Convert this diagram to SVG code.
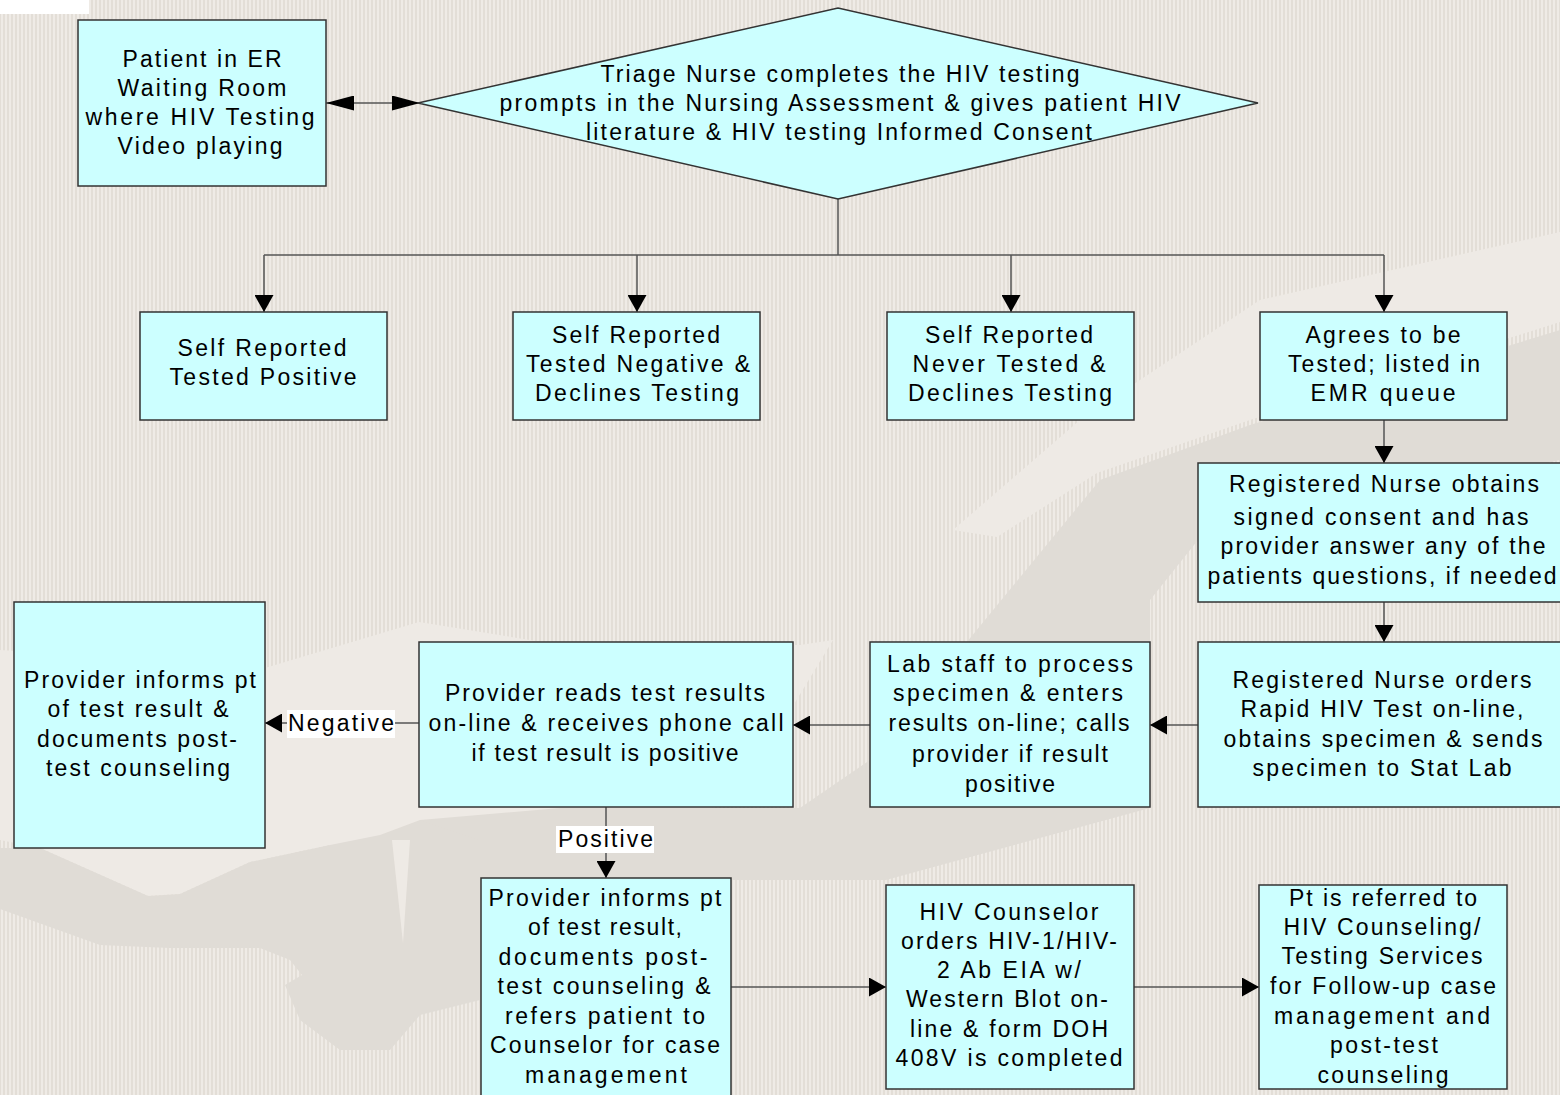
<svg xmlns="http://www.w3.org/2000/svg" width="1560" height="1095" viewBox="0 0 1560 1095">
<defs>
<pattern id="stripes" x="0" y="0" width="4" height="8" patternUnits="userSpaceOnUse">
<rect x="0" y="0" width="4" height="8" fill="#e3ded7"/>
<rect x="1" y="0" width="2" height="8" fill="#efebe6"/>
</pattern>
<marker id="arr" viewBox="0 0 17 19" refX="17" refY="9.5" markerWidth="17" markerHeight="19" markerUnits="userSpaceOnUse" orient="auto">
<path d="M0,0 L17,9.5 L0,19 Z" fill="#000"/>
</marker>
<marker id="arrL" viewBox="0 0 28 15" refX="28" refY="7.5" markerWidth="28" markerHeight="15" markerUnits="userSpaceOnUse" orient="auto-start-reverse">
<path d="M0,0 L28,7.5 L0,15 Z" fill="#000"/>
</marker>
<style>
.box{fill:#ccffff;stroke:#333;stroke-width:1.5}
.t{font-family:"Liberation Sans",Arial,sans-serif;font-size:23px;fill:#000;text-anchor:middle}
.c{fill:none;stroke:#555;stroke-width:1.5}
.ca{fill:none;stroke:#555;stroke-width:1.5;marker-end:url(#arr)}
.lbl{fill:#fff}
</style>
</defs>

<g id="background">
<rect x="0" y="0" width="1560" height="1095" fill="url(#stripes)"/>
<path d="M1560,232 L1260,300 L1080,420 L953,530 L997,537 L1097,473 L1250,420 L1560,322 Z" fill="#eeeae5"/>
<path d="M0,650 L265,668 L419,622 L560,645 L800,645 L833,640 L760,760 L700,820 L480,860 L330,845 L250,862 L180,894 L148,896 L40,848 L0,840 Z" fill="#eeeae5"/>
<path d="M420,820 L560,808 L800,808 L870,760 L1040,553 L1100,480 L1250,425 L1560,330 L1560,460 L1198,540 L1150,600 L1150,808 L886,880 L731,880 L731,1095 L480,1095 L480,1000 Z" fill="#e0dcd6"/>
<path d="M0,848 L40,848 L148,896 L180,894 L250,862 L330,845 L380,835 L420,820 L480,840 L480,1000 L420,1015 L390,1050 L340,1050 L300,1020 L285,985 L302,975 L290,960 L260,948 L170,948 L100,945 L0,909 Z" fill="#e0dcd6"/>
<path d="M392,840 L403,943 L410,840 Z" fill="#eeeae5"/>
<rect x="0" y="0" width="89" height="14" fill="#fff"/>
</g>

<g id="connectors">
<line x1="326" y1="103" x2="420" y2="103" stroke="#555" stroke-width="1.5" marker-start="url(#arrL)" marker-end="url(#arrL)"/>
<polyline class="c" points="838,199 838,255"/>
<polyline class="c" points="264,255 1384,255"/>
<line class="ca" x1="264" y1="255" x2="264" y2="312"/>
<line class="ca" x1="637" y1="255" x2="637" y2="312"/>
<line class="ca" x1="1011" y1="255" x2="1011" y2="312"/>
<line class="ca" x1="1384" y1="255" x2="1384" y2="312"/>
<line class="ca" x1="1384" y1="420" x2="1384" y2="463"/>
<line class="ca" x1="1384" y1="602" x2="1384" y2="642"/>
<line class="ca" x1="1198" y1="725" x2="1150" y2="725"/>
<line class="ca" x1="870" y1="725" x2="793" y2="725"/>
<line class="ca" x1="419" y1="723" x2="265" y2="723"/>
<rect class="lbl" x="287" y="710" width="108" height="28"/>
<text class="t" x="341" y="731" textLength="106" lengthAdjust="spacing">Negative</text>
<line class="ca" x1="606" y1="807" x2="606" y2="878"/>
<rect class="lbl" x="556" y="826" width="98" height="27"/>
<text class="t" x="605.5" y="847" textLength="95" lengthAdjust="spacing">Positive</text>
<line class="ca" x1="731" y1="987" x2="886" y2="987"/>
<line class="ca" x1="1134" y1="987" x2="1259" y2="987"/>
</g>

<g id="n-patient">
<rect class="box" x="78" y="20" width="248" height="166"/>
<text class="t" x="202" y="67" textLength="159" lengthAdjust="spacing">Patient in ER</text>
<text class="t" x="202" y="96" textLength="169" lengthAdjust="spacing">Waiting Room</text>
<text class="t" x="200" y="125" textLength="229" lengthAdjust="spacing">where HIV Testing</text>
<text class="t" x="200" y="154" textLength="165" lengthAdjust="spacing">Video playing</text>
</g>

<g id="n-triage">
<polygon class="box" points="418,103 838,8 1258,103 838,199"/>
<text class="t" x="840" y="82" textLength="479" lengthAdjust="spacing">Triage Nurse completes the HIV testing</text>
<text class="t" x="840" y="111" textLength="681" lengthAdjust="spacing">prompts in the Nursing Assessment &amp; gives patient HIV</text>
<text class="t" x="839" y="140" textLength="506" lengthAdjust="spacing">literature &amp; HIV testing Informed Consent</text>
</g>

<g id="n-positive">
<rect class="box" x="140" y="312" width="247" height="108"/>
<text class="t" x="262" y="356" textLength="169" lengthAdjust="spacing">Self Reported</text>
<text class="t" x="263" y="385" textLength="187" lengthAdjust="spacing">Tested Positive</text>
</g>

<g id="n-negative">
<rect class="box" x="513" y="312" width="247" height="108"/>
<text class="t" x="636" y="343" textLength="168" lengthAdjust="spacing">Self Reported</text>
<text class="t" x="638" y="372" textLength="224" lengthAdjust="spacing">Tested Negative &amp;</text>
<text class="t" x="637" y="401" textLength="204" lengthAdjust="spacing">Declines Testing</text>
</g>

<g id="n-never">
<rect class="box" x="887" y="312" width="247" height="108"/>
<text class="t" x="1009" y="343" textLength="168" lengthAdjust="spacing">Self Reported</text>
<text class="t" x="1009" y="372" textLength="193" lengthAdjust="spacing">Never Tested &amp;</text>
<text class="t" x="1010" y="401" textLength="204" lengthAdjust="spacing">Declines Testing</text>
</g>

<g id="n-agrees">
<rect class="box" x="1260" y="312" width="247" height="108"/>
<text class="t" x="1383" y="343" textLength="155" lengthAdjust="spacing">Agrees to be</text>
<text class="t" x="1384" y="372" textLength="192" lengthAdjust="spacing">Tested; listed in</text>
<text class="t" x="1383" y="401" textLength="145" lengthAdjust="spacing">EMR queue</text>
</g>

<g id="n-rn-consent">
<rect class="box" x="1198" y="463" width="364" height="139"/>
<text class="t" x="1384" y="492" textLength="310" lengthAdjust="spacing">Registered Nurse obtains</text>
<text class="t" x="1381" y="525" textLength="295" lengthAdjust="spacing">signed consent and has</text>
<text class="t" x="1383" y="554" textLength="325" lengthAdjust="spacing">provider answer any of the</text>
<text class="t" x="1382" y="584" textLength="349" lengthAdjust="spacing">patients questions, if needed</text>
</g>

<g id="n-rn-orders">
<rect class="box" x="1198" y="642" width="364" height="165"/>
<text class="t" x="1382" y="688" textLength="299" lengthAdjust="spacing">Registered Nurse orders</text>
<text class="t" x="1382" y="717" textLength="283" lengthAdjust="spacing">Rapid HIV Test on-line,</text>
<text class="t" x="1383" y="747" textLength="319" lengthAdjust="spacing">obtains specimen &amp; sends</text>
<text class="t" x="1382" y="776" textLength="259" lengthAdjust="spacing">specimen to Stat Lab</text>
</g>

<g id="n-lab">
<rect class="box" x="870" y="642" width="280" height="165"/>
<text class="t" x="1010" y="672" textLength="246" lengthAdjust="spacing">Lab staff  to process</text>
<text class="t" x="1008" y="701" textLength="230" lengthAdjust="spacing">specimen &amp; enters</text>
<text class="t" x="1009" y="731" textLength="241" lengthAdjust="spacing">results on-line; calls</text>
<text class="t" x="1010" y="762" textLength="196" lengthAdjust="spacing">provider if result</text>
<text class="t" x="1010" y="792" textLength="90" lengthAdjust="spacing">positive</text>
</g>

<g id="n-provider-reads">
<rect class="box" x="419" y="642" width="374" height="165"/>
<text class="t" x="605" y="701" textLength="320" lengthAdjust="spacing">Provider reads test results</text>
<text class="t" x="606" y="731" textLength="355" lengthAdjust="spacing">on-line &amp; receives phone call</text>
<text class="t" x="605" y="761" textLength="267" lengthAdjust="spacing">if test result is positive</text>
</g>

<g id="n-provider-negative">
<rect class="box" x="14" y="602" width="251" height="246"/>
<text class="t" x="140" y="688" textLength="232" lengthAdjust="spacing">Provider informs pt</text>
<text class="t" x="138" y="717" textLength="181" lengthAdjust="spacing">of test result &amp;</text>
<text class="t" x="137" y="747" textLength="200" lengthAdjust="spacing">documents post-</text>
<text class="t" x="138" y="776" textLength="184" lengthAdjust="spacing">test counseling</text>
</g>

<g id="n-provider-positive">
<rect class="box" x="481" y="878" width="250" height="220"/>
<text class="t" x="605" y="906" textLength="233" lengthAdjust="spacing">Provider informs pt</text>
<text class="t" x="605" y="935" textLength="154" lengthAdjust="spacing">of test result,</text>
<text class="t" x="603" y="965" textLength="209" lengthAdjust="spacing">documents post-</text>
<text class="t" x="604" y="994" textLength="213" lengthAdjust="spacing">test counseling &amp;</text>
<text class="t" x="605" y="1024" textLength="200" lengthAdjust="spacing">refers patient  to</text>
<text class="t" x="605" y="1053" textLength="230" lengthAdjust="spacing">Counselor for case</text>
<text class="t" x="606" y="1083" textLength="162" lengthAdjust="spacing">management</text>
</g>

<g id="n-counselor">
<rect class="box" x="886" y="885" width="248" height="204"/>
<text class="t" x="1009" y="920" textLength="179" lengthAdjust="spacing">HIV Counselor</text>
<text class="t" x="1009" y="949" textLength="216" lengthAdjust="spacing">orders HIV-1/HIV-</text>
<text class="t" x="1009" y="978" textLength="144" lengthAdjust="spacing">2 Ab EIA w/</text>
<text class="t" x="1007" y="1007" textLength="202" lengthAdjust="spacing">Western Blot on-</text>
<text class="t" x="1009" y="1037" textLength="198" lengthAdjust="spacing">line &amp; form DOH</text>
<text class="t" x="1009" y="1066" textLength="227" lengthAdjust="spacing">408V is completed</text>
</g>

<g id="n-referred">
<rect class="box" x="1259" y="885" width="248" height="204"/>
<text class="t" x="1383" y="906" textLength="188" lengthAdjust="spacing">Pt is referred to</text>
<text class="t" x="1382" y="935" textLength="197" lengthAdjust="spacing">HIV Counseling/</text>
<text class="t" x="1382" y="964" textLength="201" lengthAdjust="spacing">Testing Services</text>
<text class="t" x="1383" y="994" textLength="226" lengthAdjust="spacing">for Follow-up case</text>
<text class="t" x="1382" y="1024" textLength="216" lengthAdjust="spacing">management and</text>
<text class="t" x="1384" y="1053" textLength="108" lengthAdjust="spacing">post-test</text>
<text class="t" x="1383" y="1083" textLength="131" lengthAdjust="spacing">counseling</text>
</g>
</svg>
